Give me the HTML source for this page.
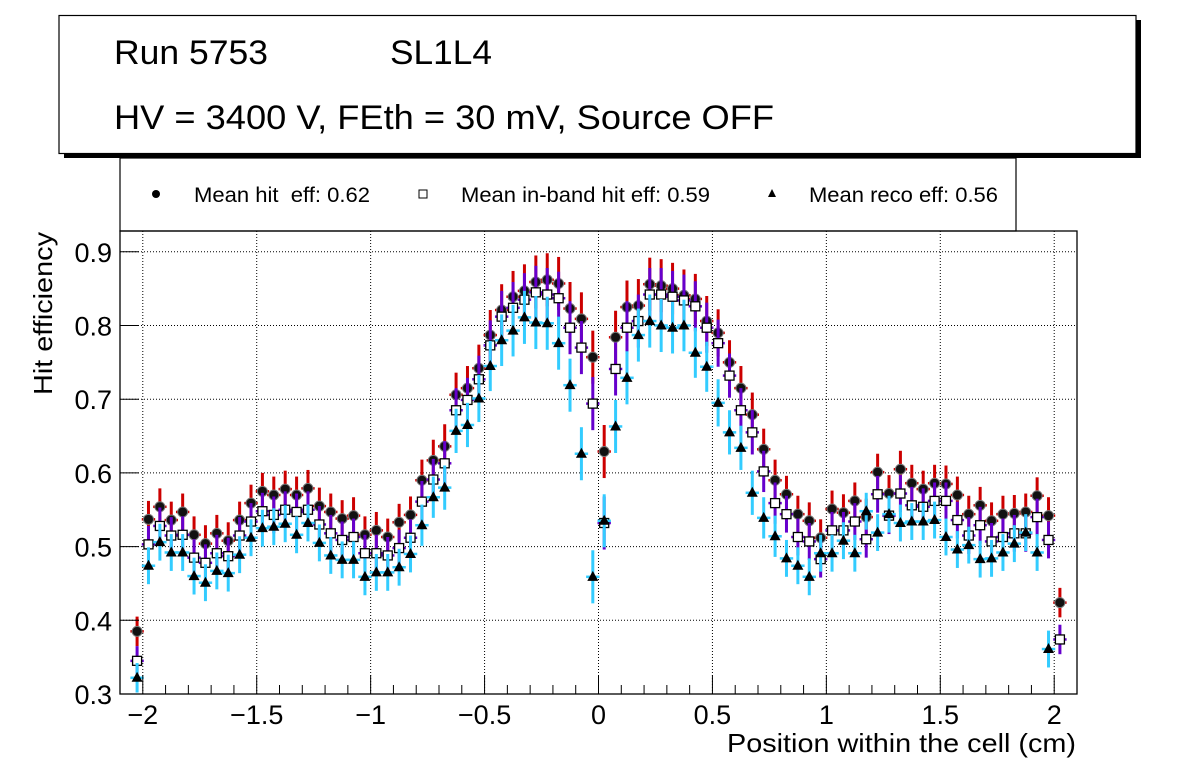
<!DOCTYPE html>
<html><head><meta charset="utf-8"><style>
html,body{margin:0;padding:0;background:#fff;}
svg{display:block;font-family:"Liberation Sans",sans-serif;}
</style></head><body>
<svg id="chart" width="1196" height="772" viewBox="0 0 1196 772" xmlns="http://www.w3.org/2000/svg">
<rect x="0" y="0" width="1196" height="772" fill="#fff"/>
<g id="title-box">
<rect x="64" y="20" width="1077" height="138" fill="#000"/>
<rect x="59" y="15.5" width="1077" height="138" fill="#fff" stroke="#000" stroke-width="1.2"/>
<text x="114" y="64" font-size="34" textLength="154" lengthAdjust="spacingAndGlyphs">Run 5753</text>
<text x="390" y="64" font-size="34" textLength="102" lengthAdjust="spacingAndGlyphs">SL1L4</text>
<text x="114" y="129" font-size="34" textLength="660" lengthAdjust="spacingAndGlyphs">HV = 3400 V, FEth = 30 mV, Source OFF</text>
</g>
<g id="legend">
<rect x="120" y="158" width="896" height="73" fill="#fff" stroke="#000" stroke-width="1.2"/>
<g><circle cx="156" cy="194" r="4" fill="#000"/><text x="194" y="202" font-size="21" textLength="176" lengthAdjust="spacingAndGlyphs" xml:space="preserve">Mean hit  eff: 0.62</text></g>
<g><rect x="419" y="190" width="8" height="8" fill="#fff" stroke="#000" stroke-width="1"/><text x="461" y="202" font-size="21" textLength="249" lengthAdjust="spacingAndGlyphs">Mean in-band hit eff: 0.59</text></g>
<g><polygon points="772,189 776,197 768,197" fill="#000"/><text x="809" y="202" font-size="21" textLength="189" lengthAdjust="spacingAndGlyphs">Mean reco eff: 0.56</text></g>
</g>
<g id="plot"></g>
<text x="1076" y="752" font-size="26" text-anchor="end" textLength="349" lengthAdjust="spacingAndGlyphs">Position within the cell (cm)</text>
<text transform="translate(52,232) rotate(-90)" font-size="26" text-anchor="end" textLength="163" lengthAdjust="spacingAndGlyphs">Hit efficiency</text>
</svg>
<script>
const xCenters = [-2.025,-1.975,-1.925,-1.875,-1.825,-1.775,-1.725,-1.675,-1.625,-1.575,-1.525,-1.475,-1.425,-1.375,-1.325,-1.275,-1.225,-1.175,-1.125,-1.075,-1.025,-0.975,-0.925,-0.875,-0.825,-0.775,-0.725,-0.675,-0.625,-0.575,-0.525,-0.475,-0.425,-0.375,-0.325,-0.275,-0.225,-0.175,-0.125,-0.075,-0.025,0.025,0.075,0.125,0.175,0.225,0.275,0.325,0.375,0.425,0.475,0.525,0.575,0.625,0.675,0.725,0.775,0.825,0.875,0.925,0.975,1.025,1.075,1.125,1.175,1.225,1.275,1.325,1.375,1.425,1.475,1.525,1.575,1.625,1.675,1.725,1.775,1.825,1.875,1.925,1.975,2.025];
const hitEff = [0.385,0.537,0.554,0.536,0.547,0.516,0.504,0.518,0.508,0.536,0.559,0.575,0.570,0.578,0.570,0.579,0.555,0.547,0.538,0.542,0.516,0.522,0.513,0.533,0.543,0.590,0.617,0.636,0.706,0.715,0.742,0.787,0.821,0.839,0.847,0.859,0.862,0.857,0.823,0.809,0.757,0.629,0.784,0.825,0.827,0.856,0.854,0.850,0.841,0.836,0.806,0.790,0.750,0.715,0.679,0.632,0.590,0.571,0.544,0.535,0.512,0.551,0.546,0.562,0.540,0.601,0.572,0.605,0.586,0.578,0.586,0.585,0.570,0.544,0.556,0.535,0.544,0.545,0.547,0.569,0.542,0.424];
const inbandEff = [0.345,0.503,0.528,0.515,0.516,0.485,0.478,0.491,0.487,0.515,0.534,0.548,0.543,0.550,0.547,0.550,0.530,0.518,0.509,0.513,0.491,0.491,0.488,0.498,0.512,0.561,0.591,0.613,0.685,0.699,0.727,0.773,0.812,0.824,0.835,0.845,0.842,0.837,0.797,0.770,0.694,0.532,0.741,0.797,0.806,0.842,0.842,0.839,0.834,0.826,0.797,0.776,0.732,0.685,0.655,0.602,0.559,0.544,0.513,0.507,0.483,0.522,0.522,0.534,0.510,0.571,0.542,0.572,0.556,0.554,0.562,0.562,0.536,0.515,0.529,0.507,0.513,0.518,0.518,0.540,0.509,0.374];
const recoEff = [0.322,0.474,0.506,0.492,0.492,0.460,0.451,0.467,0.464,0.489,0.512,0.525,0.527,0.531,0.516,0.532,0.505,0.488,0.482,0.482,0.459,0.465,0.465,0.472,0.490,0.529,0.567,0.580,0.657,0.665,0.701,0.745,0.780,0.793,0.811,0.804,0.803,0.776,0.719,0.626,0.459,0.535,0.663,0.729,0.787,0.806,0.800,0.797,0.800,0.763,0.744,0.695,0.655,0.634,0.573,0.539,0.514,0.484,0.474,0.459,0.491,0.491,0.508,0.491,0.548,0.519,0.544,0.532,0.534,0.534,0.536,0.513,0.496,0.502,0.483,0.484,0.492,0.504,0.519,0.492,0.361];
const errHit = [0.02,0.025,0.025,0.025,0.025,0.025,0.025,0.025,0.025,0.025,0.025,0.025,0.025,0.025,0.025,0.025,0.025,0.025,0.025,0.025,0.025,0.025,0.025,0.025,0.025,0.028,0.028,0.03,0.03,0.03,0.032,0.034,0.035,0.035,0.036,0.036,0.036,0.036,0.036,0.036,0.036,0.036,0.036,0.036,0.036,0.036,0.036,0.035,0.035,0.034,0.034,0.032,0.03,0.03,0.03,0.028,0.028,0.025,0.025,0.025,0.025,0.025,0.025,0.025,0.025,0.025,0.025,0.025,0.025,0.025,0.025,0.025,0.025,0.025,0.025,0.025,0.025,0.025,0.025,0.025,0.025,0.02];
const errInband = errHit.slice();
const errReco = [0.02,0.025,0.025,0.025,0.025,0.025,0.025,0.025,0.025,0.025,0.025,0.025,0.025,0.025,0.025,0.025,0.025,0.025,0.025,0.025,0.025,0.025,0.025,0.025,0.025,0.028,0.028,0.03,0.03,0.03,0.032,0.034,0.035,0.035,0.036,0.036,0.036,0.036,0.036,0.036,0.036,0.036,0.036,0.036,0.036,0.036,0.036,0.035,0.035,0.034,0.034,0.032,0.03,0.03,0.03,0.028,0.028,0.025,0.025,0.025,0.025,0.025,0.025,0.025,0.025,0.025,0.025,0.025,0.025,0.025,0.025,0.025,0.025,0.025,0.025,0.025,0.025,0.025,0.025,0.025,0.025,0.02];
const xTickLabels = ["\u22122","\u22121.5","\u22121","\u22120.5","0","0.5","1","1.5","2"];
const xTickValues = [-2,-1.5,-1,-0.5,0,0.5,1,1.5,2];
const yTickLabels = ["0.3","0.4","0.5","0.6","0.7","0.8","0.9"];
const yTickValues = [0.3,0.4,0.5,0.6,0.7,0.8,0.9];

const NS = "http://www.w3.org/2000/svg";
const L = 120, R = 1077, T = 231, B = 694;
const XMIN = -2.1, XMAX = 2.1, YMIN = 0.3, YMAX = 0.9282;
function sx(v){ return L + (v - XMIN) / (XMAX - XMIN) * (R - L); }
function sy(v){ return B - (v - YMIN) / (YMAX - YMIN) * (B - T); }
const plot = document.getElementById('plot');
function mk(tag, attrs, parent){ const e = document.createElementNS(NS, tag); for (const k in attrs) e.setAttribute(k, attrs[k]); (parent || plot).appendChild(e); return e; }

const grid = mk('g', {});


xTickValues.forEach(v => { mk('line', {x1:sx(v), x2:sx(v), y1:T, y2:B, stroke:'#000', 'stroke-width':1, 'stroke-dasharray':'1,2'}, grid); });
yTickValues.forEach(v => { mk('line', {x1:L, x2:R, y1:sy(v), y2:sy(v), stroke:'#000', 'stroke-width':1, 'stroke-dasharray':'1,2'}, grid); });

function series(vals, errs, color, marker, name){
  const g = mk('g', {});
  
  
  vals.forEach((v, i) => {
    const cx = sx(xCenters[i]), cy = sy(v);
    const hx = (sx(0.025) - sx(0));
    mk('line', {x1:cx, x2:cx, y1:Math.max(T, sy(v + errs[i])), y2:Math.min(B, sy(v - errs[i])), stroke:color, 'stroke-width':3}, g);
    mk('line', {x1:cx - hx - 1, x2:cx + hx + 1, y1:cy, y2:cy, stroke:color, 'stroke-width':2.5}, g);
  });
  vals.forEach((v, i) => {
    const cx = sx(xCenters[i]), cy = sy(v);
    let m;
    if (marker === 'circle') m = mk('circle', {cx:cx, cy:cy, r:5, fill:'#111', stroke:'#777', 'stroke-width':1}, g);
    else if (marker === 'square') m = mk('rect', {x:cx - 4.5, y:cy - 4.5, width:9, height:9, fill:'#fff', stroke:'#000', 'stroke-width':1.3}, g);
    else m = mk('polygon', {points:(cx)+','+(cy-6)+' '+(cx+5.5)+','+(cy+4)+' '+(cx-5.5)+','+(cy+4), fill:'#000'}, g);
    
    
  });
}
series(hitEff, errHit, '#cc0000', 'circle', 'hit-eff-series');
series(inbandEff, errInband, '#6600cc', 'square', 'inband-eff-series');
series(recoEff, errReco, '#33ccff', 'triangle', 'reco-eff-series');

const fr = mk('rect', {x:L, y:T, width:R-L, height:B-T, fill:'none', stroke:'#000', 'stroke-width':1.3});



const xax = mk('g', {});


for (let k = -21; k <= 21; k++) {
  const v = k / 10;
  const major = (k % 5 === 0);
  mk('line', {x1:sx(v), x2:sx(v), y1:B, y2:B - (major ? 19 : 9), stroke:'#000', 'stroke-width':1}, xax);
}
xTickValues.forEach((v, i) => {
  const t = mk('text', {x:sx(v), y:724, 'font-size':27, 'text-anchor':'middle'}, xax);
  t.textContent = xTickLabels[i];
  
  
});
const yax = mk('g', {});


yTickValues.forEach((v, i) => {
  mk('line', {x1:L, x2:L + 19, y1:sy(v), y2:sy(v), stroke:'#000', 'stroke-width':1}, yax);
  const t = mk('text', {x:112, y:sy(v) + 10, 'font-size':27, 'text-anchor':'end'}, yax);
  t.textContent = yTickLabels[i];
  
  
});
</script>
</body></html>
